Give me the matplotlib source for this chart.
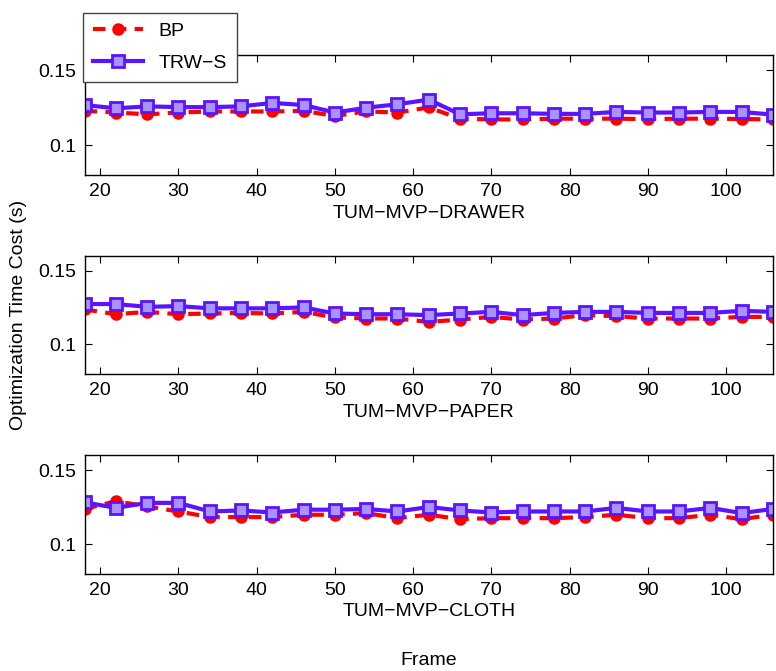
import matplotlib.pyplot as plt
from matplotlib.lines import Line2D

plt.rcParams['font.family'] = ['Liberation Sans', 'DejaVu Sans']

# Data
frames = [18, 22, 26, 30, 34, 38, 42, 46, 50, 54, 58, 62,
          66, 70, 74, 78, 82, 86, 90, 94, 98, 102, 106]

datasets = ['TUM\u2212MVP\u2212DRAWER', 'TUM\u2212MVP\u2212PAPER', 'TUM\u2212MVP\u2212CLOTH']

bp_drawer = [0.1228, 0.1217, 0.1205, 0.1217, 0.1224, 0.1224, 0.1224, 0.1228, 0.1194, 0.1224, 0.1217, 0.1251,
             0.1176, 0.1171, 0.1171, 0.1176, 0.1176, 0.1176, 0.1173, 0.1176, 0.1176, 0.1174, 0.1171]
trws_drawer = [0.1267, 0.1245, 0.1258, 0.1253, 0.1253, 0.1258, 0.1281, 0.1267, 0.1217, 0.1249, 0.1272, 0.1303,
               0.1205, 0.1212, 0.1212, 0.1208, 0.1208, 0.1221, 0.1217, 0.1217, 0.1221, 0.1221, 0.1203]

bp_paper = [0.1238, 0.1205, 0.1221, 0.1205, 0.1210, 0.1214, 0.1210, 0.1221, 0.1183, 0.1176, 0.1176, 0.1153,
            0.1169, 0.1187, 0.1169, 0.1176, 0.1199, 0.1192, 0.1176, 0.1176, 0.1176, 0.1187, 0.1187]
trws_paper = [0.1274, 0.1274, 0.1255, 0.1260, 0.1245, 0.1245, 0.1245, 0.1251, 0.1210, 0.1205, 0.1205, 0.1199,
              0.1210, 0.1221, 0.1199, 0.1214, 0.1221, 0.1221, 0.1214, 0.1214, 0.1214, 0.1228, 0.1221]

bp_cloth = [0.1238, 0.1290, 0.1255, 0.1221, 0.1183, 0.1183, 0.1183, 0.1199, 0.1199, 0.1210, 0.1176, 0.1199,
            0.1169, 0.1176, 0.1176, 0.1176, 0.1183, 0.1199, 0.1176, 0.1176, 0.1199, 0.1169, 0.1199]
trws_cloth = [0.1283, 0.1245, 0.1279, 0.1279, 0.1221, 0.1228, 0.1214, 0.1233, 0.1233, 0.1238, 0.1221, 0.1251,
              0.1228, 0.1214, 0.1221, 0.1221, 0.1221, 0.1245, 0.1221, 0.1221, 0.1245, 0.1210, 0.1238]

bp_all = [bp_drawer, bp_paper, bp_cloth]
trws_all = [trws_drawer, trws_paper, trws_cloth]

bp_color = '#ff0000'
trws_color = '#5a14ff'
trws_face = '#a994ff'

fig = plt.figure(figsize=(7.76, 6.71), dpi=100)

# axes positions (figure fraction): left, bottom, width, height
positions = [[0.109, 0.739, 0.887, 0.179],
             [0.109, 0.4426, 0.887, 0.176],
             [0.109, 0.1446, 0.887, 0.177]]

for pos, name, bp, trws in zip(positions, datasets, bp_all, trws_all):
    ax = fig.add_axes(pos)
    ax.plot(frames, bp, color=bp_color, linestyle=(0, (3, 2)), linewidth=3,
            marker='o', markersize=8, markerfacecolor=bp_color, markeredgecolor=bp_color)
    ax.plot(frames, trws, color=trws_color, linestyle='-', linewidth=3,
            marker='s', markersize=8, markerfacecolor=trws_face, markeredgecolor=trws_color,
            markeredgewidth=2)
    ax.set_xlim(18, 106)
    ax.set_ylim(0.08, 0.16)
    ax.set_xticks([20, 30, 40, 50, 60, 70, 80, 90, 100])
    ax.set_yticks([0.1, 0.15])
    ax.set_yticklabels(['0.1', '0.15'])
    ax.tick_params(direction='in', top=True, right=True, labelsize=14, length=5, pad=6, width=0.8)
    for s in ax.spines.values():
        s.set_linewidth(1.0)
    ax.set_xlabel(name, fontsize=14, labelpad=3)

fig.text(0.024, 0.531, 'Optimization Time Cost (s)', rotation=90, fontsize=14,
         ha='center', va='center')
fig.text(0.552, 0.016, 'Frame', fontsize=14, ha='center', va='center')

handles = [Line2D([], [], color=bp_color, linestyle=(0, (3, 2)), linewidth=3,
                  marker='o', markersize=8, markerfacecolor=bp_color),
           Line2D([], [], color=trws_color, linestyle='-', linewidth=3,
                  marker='s', markersize=8, markerfacecolor=trws_face,
                  markeredgecolor=trws_color, markeredgewidth=2)]
leg = fig.legend(handles, ['BP', 'TRW\u2212S'], loc='upper left', bbox_to_anchor=(0.107, 0.981),
                 borderaxespad=0, fontsize=14, handlelength=2.6, fancybox=False,
                 edgecolor='#444444', framealpha=1, labelspacing=0.75, borderpad=0.5)
leg.get_frame().set_linewidth(1.0)

fig.savefig('out.png', dpi=100)
